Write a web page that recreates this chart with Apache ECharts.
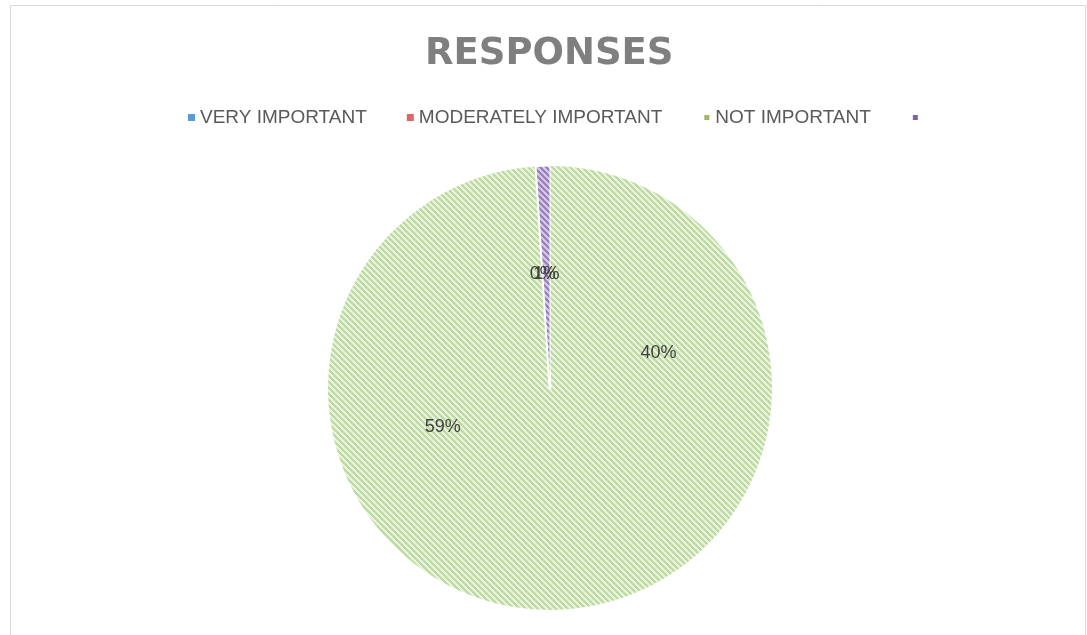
<!DOCTYPE html>
<html>
<head>
<meta charset="utf-8">
<script src="https://cdn.jsdelivr.net/npm/echarts@6/dist/echarts.min.js"></script>
<style>
html,body{margin:0;padding:0;background:#fff;}
#chart{width:1087px;height:635px;}
</style>
</head>
<body>
<div id="chart"></div>
<script>
// ---- data ----
var titleText = 'RESPONSES';
var categories = ['VERY IMPORTANT', 'MODERATELY IMPORTANT', 'NOT IMPORTANT', ' '];
var values = [40, 59, 0, 1];
var legendColors = ['#5b9bd5', '#e06666', '#9bbb59', '#8064a2'];

// ---- styles ----
function stripe(light, dark) {
  var c = document.createElement('canvas');
  c.width = 6; c.height = 6;
  var ctx = c.getContext('2d');
  ctx.fillStyle = light; ctx.fillRect(0, 0, 6, 6);
  ctx.fillStyle = dark;
  for (var y = 0; y < 6; y++) {
    for (var x = 0; x < 6; x++) {
      var m = ((x - y) % 6 + 6) % 6;
      if (m < 3) ctx.fillRect(x, y, 1, 1);
    }
  }
  return { image: c, repeat: 'repeat' };
}
var greenPat = stripe('#e8f2df', '#bedb9f');
var purplePat = stripe('#d3c8e3', '#9a80bf');
var sliceStyles = [
  { color: greenPat, borderWidth: 0 },
  { color: greenPat, borderWidth: 0 },
  { color: greenPat, borderColor: '#ffffff', borderWidth: 3 },
  { color: purplePat, borderColor: '#ffffff', borderWidth: 1 }
];

var chart = echarts.init(document.getElementById('chart'));
chart.setOption({
  animation: false,
  backgroundColor: '#ffffff',
  graphic: [{
    type: 'rect', left: 8, top: 3, silent: true,
    shape: { width: 1075, height: 632 },
    style: { fill: 'none', stroke: '#d9d9d9', lineWidth: 1 }
  }],
  title: {
    text: titleText,
    left: 420,
    top: 31,
    textStyle: { fontFamily: 'DejaVu Sans', fontWeight: 'bold', fontSize: 37, color: '#7f7f7f' }
  },
  legend: {
    top: 103,
    left: 183,
    itemWidth: 7,
    itemHeight: 7,
    itemGap: 40,
    icon: 'rect',
    textStyle: { fontFamily: 'Liberation Sans', fontSize: 19, color: '#595959' },
    data: categories.map(function (n, i) {
      return { name: n, itemStyle: { color: legendColors[i] } };
    })
  },
  series: [{
    type: 'pie',
    center: [550, 388],
    radius: [0, 222],
    startAngle: 90,
    clockwise: true,
    avoidLabelOverlap: false,
    stillShowZeroSum: true,
    labelLayout: { hideOverlap: false },
    label: {
      position: 'inner',
      fontFamily: 'Liberation Sans',
      fontSize: 18,
      color: '#404040',
      formatter: function (p) { return Math.round(p.percent) + '%'; }
    },
    labelLine: { show: false },
    emphasis: { disabled: true },
    data: categories.map(function (n, i) {
      return { name: n, value: values[i], itemStyle: sliceStyles[i] };
    })
  }]
});
</script>
</body>
</html>
